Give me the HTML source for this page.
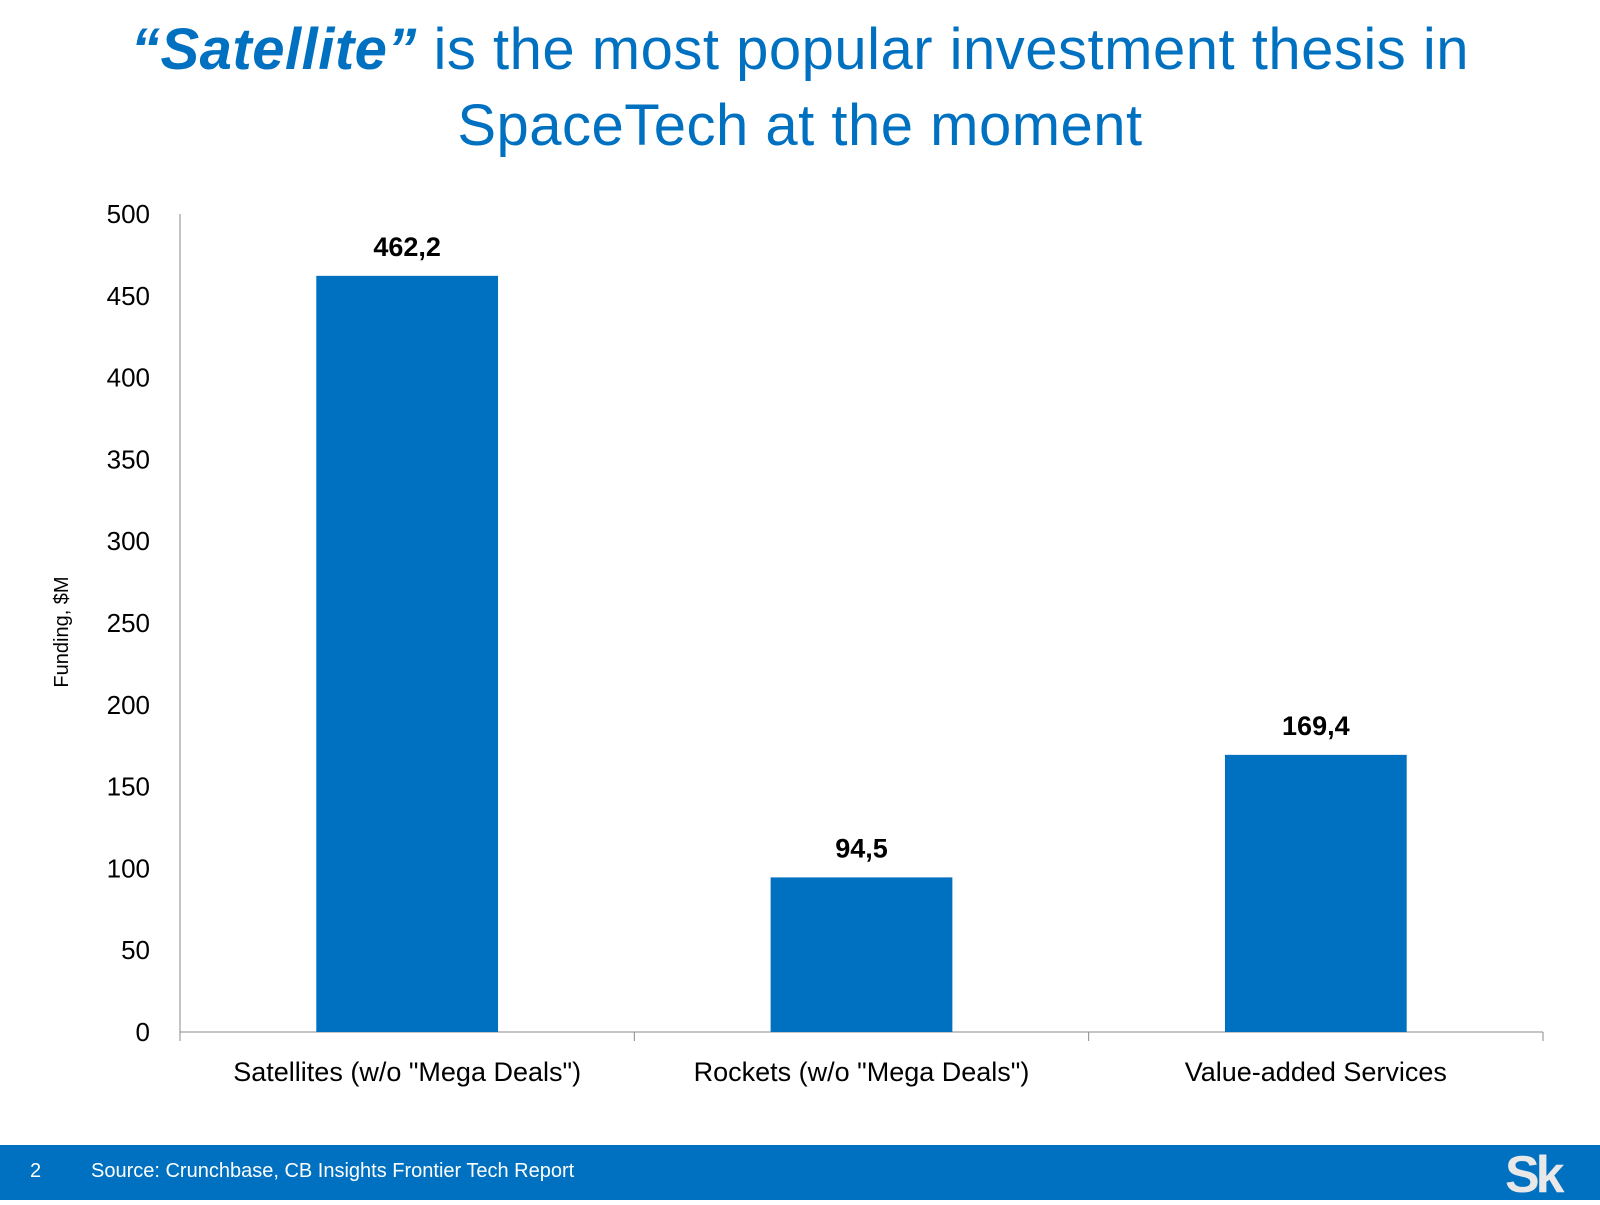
<!DOCTYPE html>
<html><head><meta charset="utf-8"><style>
body{margin:0;width:1600px;height:1200px;background:#fff;overflow:hidden;font-family:"Liberation Sans",sans-serif;position:relative}
.title{position:absolute;left:0;top:12px;width:1600px;text-align:center;color:#0070c0;font-size:58px;line-height:76px;letter-spacing:0.5px}
.footer{position:absolute;left:0;top:1145px;width:1600px;height:55px;background:#0070c0;color:#fff}
</style></head><body>
<div class="title"><b><i>“Satellite”</i></b> is the most popular investment thesis in<br>SpaceTech at the moment</div>
<svg id="chart" width="1600" height="1145" style="position:absolute;left:0;top:0"></svg>
<div class="footer">
<span style="position:absolute;left:30px;top:15px;font-size:20px">2</span>
<span style="position:absolute;left:91px;top:15px;font-size:20px">Source: Crunchbase, CB Insights Frontier Tech Report</span>
<span style="position:absolute;left:1505px;top:0px;font-size:52px;font-weight:bold;color:#e8e8e8;letter-spacing:-4px">Sk</span>
</div>
<script>
const categories=['Satellites (w/o "Mega Deals")','Rockets (w/o "Mega Deals")','Value-added Services'];
const values=[462.2,94.5,169.4];
const valueLabels=['462,2','94,5','169,4'];
const ticks=[0,50,100,150,200,250,300,350,400,450,500];
const svg=document.getElementById('chart');
const NS='http://www.w3.org/2000/svg';
const x0=180,x1=1543,y0=1032,y1=214;
const y=v=>y0-(v/500)*(y0-y1);
const bw=(x1-x0)/categories.length;
function mk(t,a,txt){const e=document.createElementNS(NS,t);for(const k in a)e.setAttribute(k,a[k]);if(txt!==undefined)e.textContent=txt;svg.appendChild(e);return e;}
let e=mk('line',{x1:x0,y1:y1,x2:x0,y2:y0,stroke:'#888','stroke-width':1});


e=mk('line',{x1:x0,y1:y0,x2:x1,y2:y0,stroke:'#888','stroke-width':1});


ticks.forEach(t=>{
 const l=mk('text',{x:150,y:y(t)+9,'text-anchor':'end','font-size':26,fill:'#000'},String(t));
 
 
});
for(let i=0;i<=categories.length;i++){
 const tk=mk('line',{x1:x0+i*bw,y1:y0,x2:x0+i*bw,y2:y0+9,stroke:'#888'});
 
 
}
categories.forEach((c,i)=>{
 const cx=x0+bw*(i+0.5),w=bw*0.4;
 const r=mk('rect',{x:cx-w/2,y:y(values[i]),width:w,height:y0-y(values[i]),fill:'#0070c0'});
 
 
 const v=mk('text',{x:cx,y:y(values[i])-20,'text-anchor':'middle','font-size':27,'font-weight':'bold',fill:'#000'},valueLabels[i]);
 
 
 const cl=mk('text',{x:cx,y:1081,'text-anchor':'middle','font-size':27,fill:'#000'},c);
 
 
});
e=mk('text',{x:0,y:0,transform:'translate(68,632) rotate(-90)','text-anchor':'middle','font-size':20,fill:'#000'},'Funding, $M');


</script>
</body></html>
